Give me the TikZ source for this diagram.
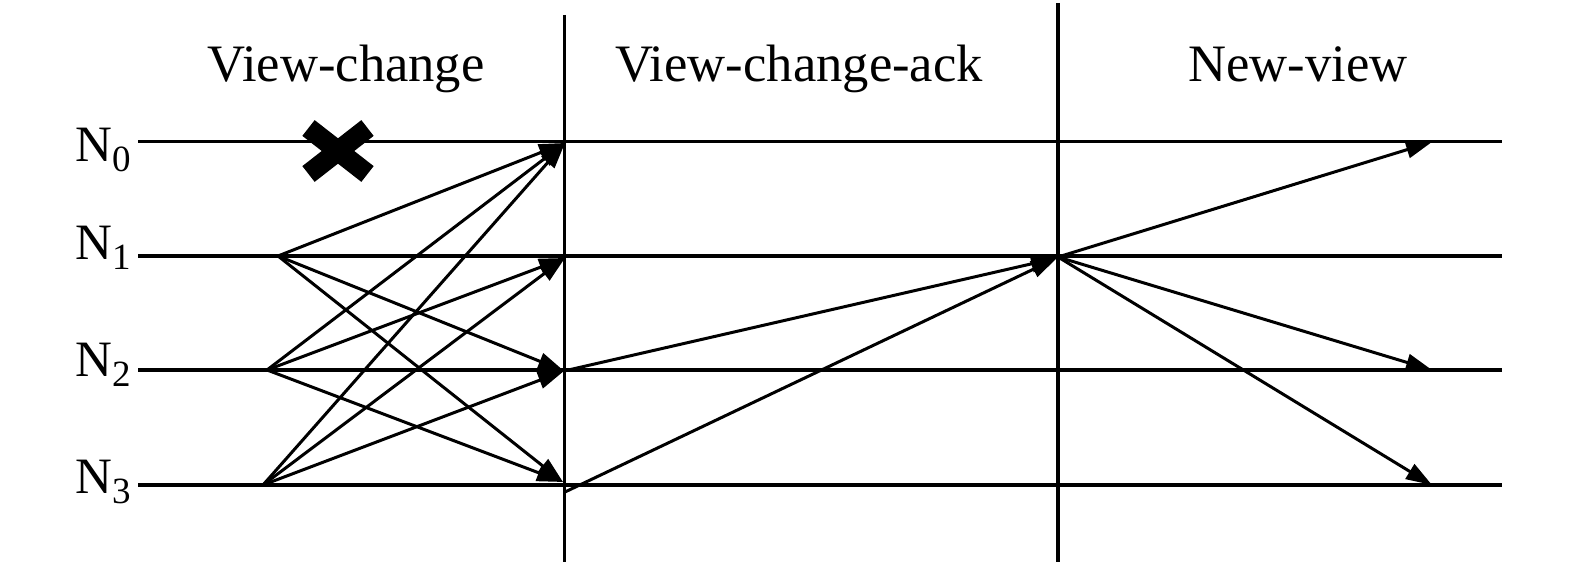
\documentclass[tikz,border=0pt]{standalone}
\usepackage{fontspec}
\setmainfont{Liberation Serif}
\usetikzlibrary{arrows.meta,calc}
\newcommand{\lanename}[1]{N\raisebox{-5pt}{\fontsize{18.5}{19}\selectfont #1}}

\begin{document}
\begin{tikzpicture}[x=0.5pt,y=0.5pt,yscale=-1,xscale=1,
  lane/.style={line width=1.6pt},
  msg/.style={line width=1.5pt,-{Triangle[length=13pt,width=8.5pt]}},
  phase/.style={font=\fontsize{26.3}{30}\selectfont,anchor=base,inner sep=0pt},
  nodename/.style={font=\fontsize{25.5}{30}\selectfont,anchor=base west,inner sep=0pt}]
        \useasboundingbox (0,0) rectangle (1575,565);

        % Text Node
        \node [phase] (vc) at (346,82) {View-change};
        \node [phase] (vca) at (799,82) {View-change-ack};
        \node [phase] (nv) at (1298,82) {New-view};
        % Text Node
        \node [nodename] (n0) at (75,161.7) {\lanename{0}};
        \node [nodename] (n1) at (75,260) {\lanename{1}};
        \node [nodename] (n2) at (75,376.7) {\lanename{2}};
        \node [nodename] (n3) at (75,493.3) {\lanename{3}};

        % Lanes
        \coordinate (l0) at (138,141.7);  \coordinate (r0) at (1502,141.7);
        \coordinate (l1) at (138,256);    \coordinate (r1) at (1502,256);
        \coordinate (l2) at (138,370);    \coordinate (r2) at (1502,370);
        \coordinate (l3) at (138,485);    \coordinate (r3) at (1502,485);
        \draw [lane] (l0) -- (r0);
        \draw [lane] (l1) -- (r1);
        \draw [lane] (l2) -- (r2);
        \draw [lane] (l3) -- (r3);

        % Phase borders
        \coordinate (ta) at (564.5,15);  \coordinate (ba) at (564.5,562);
        \coordinate (tb) at (1058,3);    \coordinate (bb) at (1058,562);
        \draw [lane] (ta) -- (ba);
        \draw [lane] (tb) -- (bb);

        % Crash of N0
        \coordinate (x) at (338,151);
        \draw [line width=10pt,line cap=butt] ($(x)+(-29.5,-23)$) -- ($(x)+(29.5,23)$);
        \draw [line width=10pt,line cap=butt] ($(x)+(-29.5,23)$) -- ($(x)+(29.5,-23)$);

        % View-change
        \coordinate (s1) at (278,256);
        \coordinate (s2) at (267,370);
        \coordinate (s3) at (263,485);
        \coordinate (t0) at (565,143);
        \coordinate (t1) at (565,258);
        \coordinate (t2) at (564,371);
        \coordinate (t3) at (563,482);
        \draw [msg] (s1) -- (t0);
        \draw [msg] (s1) -- (t2);
        \draw [msg] (s1) -- (t3);
        \draw [msg] (s2) -- (t0);
        \draw [msg] (s2) -- (t1);
        \draw [msg] (s2) -- (t3);
        \draw [msg] (s3) -- (t0);
        \draw [msg] (s3) -- (t1);
        \draw [msg] (s3) -- (t2);

        % View-change-ack
        \coordinate (a2) at (564,371);
        \coordinate (a3) at (565,492);
        \coordinate (p1) at (1057,258);
        \draw [msg] (a2) -- (p1);
        \draw [msg] (a3) -- (p1);

        % New-view
        \coordinate (q1) at (1058,257);
        \coordinate (e0) at (1432,142);
        \coordinate (e2) at (1432,370);
        \coordinate (e3) at (1432,485);
        \draw [msg] (q1) -- (e0);
        \draw [msg] (q1) -- (e2);
        \draw [msg] (q1) -- (e3);

\end{tikzpicture}
\end{document}
